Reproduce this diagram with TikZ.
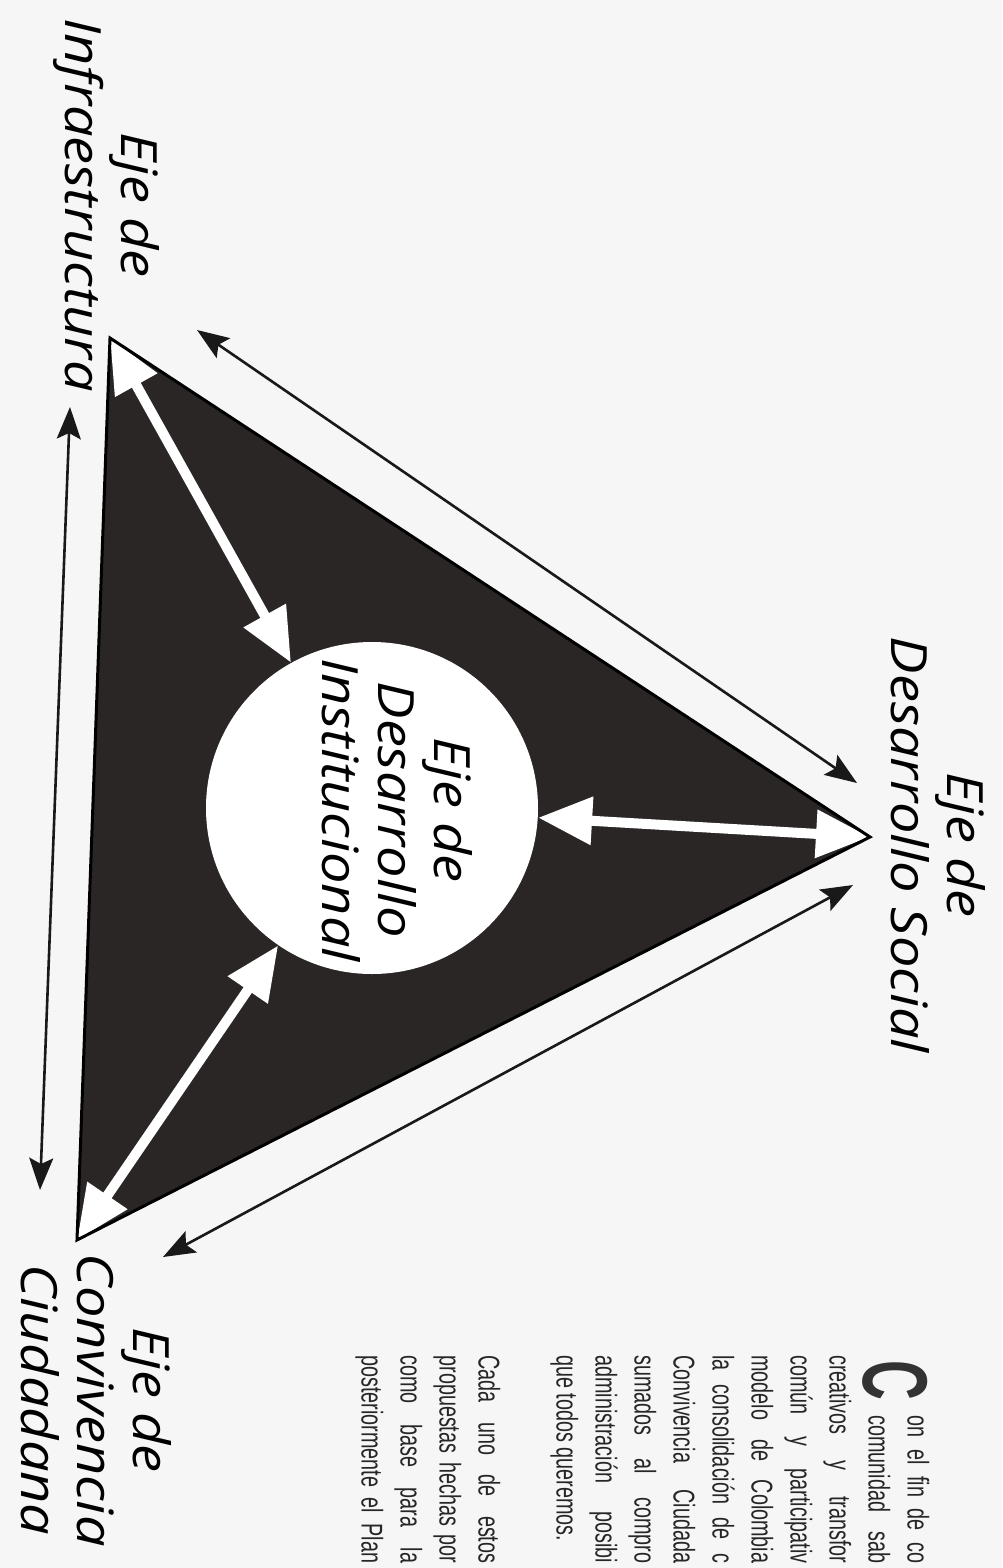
\documentclass[tikz,border=0pt]{standalone}
\usepackage{fontspec}
\usetikzlibrary{arrows.meta}
\newfontfamily\labelfont[FakeStretch=1.12]{Open Sans}
\newfontfamily\bodyfont[FakeStretch=0.66]{Liberation Sans}
\newfontfamily\capfont[FakeStretch=0.6]{Liberation Sans}
\definecolor{paper}{HTML}{F6F6F6}
\definecolor{trifill}{HTML}{2A2626}
\tikzset{
  axislabel/.style={font=\labelfont\itshape\fontsize{25pt}{28pt}\selectfont, align=center, rotate=-90, inner sep=0pt},
  bodyline/.style={font=\bodyfont\fontsize{15pt}{19pt}\selectfont, rotate=-90, inner sep=0pt, anchor=mid west, text=black!85},
  linkarrow/.style={{Triangle[length=27pt,width=23pt]}-{Triangle[length=27pt,width=23pt]}, line width=5pt, white},
  outerarrow/.style={{Stealth[length=16pt,width=12pt,inset=3pt]}-{Stealth[length=16pt,width=12pt,inset=3pt]}, line width=1.3pt, black!90},
  hubcircle/.style={circle, fill=white, minimum size=166pt, inner sep=0pt}
}
\begin{document}
\begin{tikzpicture}[x=0.5pt, y=-0.5pt]
  \useasboundingbox (0,0) rectangle (1002,1568);
  \fill[paper] (0,0) rectangle (1002,1568);

  % corners of the triangle
  \coordinate (infra) at (110,338);
  \coordinate (social) at (870,837);
  \coordinate (conviv) at (77,1240);
  \fill[trifill] (infra) -- (social) -- (conviv) -- cycle;

  \node[hubcircle] (inst) at (372,808) {};
  \node[axislabel] (lblinst) at (397,810) {Eje de\\Desarrollo\\Institucional};

  \draw[linkarrow] (inst) -- (infra);
  \draw[linkarrow] (inst) -- (social);
  \draw[linkarrow] (inst) -- (conviv);
  \draw[line width=1.5pt, line join=miter] (infra) -- (social) -- (conviv) -- cycle;

  % outer arrows along the sides
  \coordinate (isA) at (197,330);
  \coordinate (isB) at (857,783);
  \coordinate (scA) at (853,885);
  \coordinate (scB) at (163,1257);
  \coordinate (icA) at (70,407);
  \coordinate (icB) at (40,1190);
  \draw[outerarrow] (isA) -- (isB);
  \draw[outerarrow] (scA) -- (scB);
  \draw[outerarrow] (icA) -- (icB);

  \node[axislabel] (lblinfra) at (106,205) {Eje de\\Infraestructura};
  \node[axislabel] (lblsocial) at (938,845) {Eje de\\Desarrollo Social};
  \node[axislabel] (lblconviv) at (96,1400) {Eje de\\Convivencia\\Ciudadana};

  % text column, running to the page edge
  \node[font=\capfont\bfseries\fontsize{46pt}{46pt}\selectfont, rotate=-90, anchor=base west, inner sep=0pt, text=black!80] (dropcap) at (863,1360) {C};
  \node[bodyline] (l1) at (912,1415) {\makebox[74pt][s]{on el fin de co}};
  \node[bodyline] (l2) at (873,1415) {\makebox[74pt][s]{comunidad sab}};
  \node[bodyline] (l3) at (834,1355) {\makebox[104pt][s]{creativos y transfor}};
  \node[bodyline] (l4) at (795,1355) {\makebox[104pt][s]{común y participativ}};
  \node[bodyline] (l5) at (756,1355) {\makebox[104pt][s]{modelo de Colombia}};
  \node[bodyline] (l6) at (717,1355) {\makebox[104pt][s]{la consolidación de c}};
  \node[bodyline] (l7) at (678,1355) {\makebox[104pt][s]{Convivencia Ciudada}};
  \node[bodyline] (l8) at (639,1355) {\makebox[104pt][s]{sumados al compro}};
  \node[bodyline] (l9) at (600,1355) {\makebox[104pt][s]{administración posibi}};
  \node[bodyline] (l10) at (561,1355) {que todos queremos.};
  \node[bodyline] (l11) at (483,1355) {\makebox[104pt][s]{Cada uno de estos}};
  \node[bodyline] (l12) at (444,1355) {\makebox[104pt][s]{propuestas hechas por}};
  \node[bodyline] (l13) at (405,1355) {\makebox[104pt][s]{como base para la}};
  \node[bodyline] (l14) at (366,1355) {\makebox[104pt][s]{posteriormente el Plan}};
\end{tikzpicture}
\end{document}
